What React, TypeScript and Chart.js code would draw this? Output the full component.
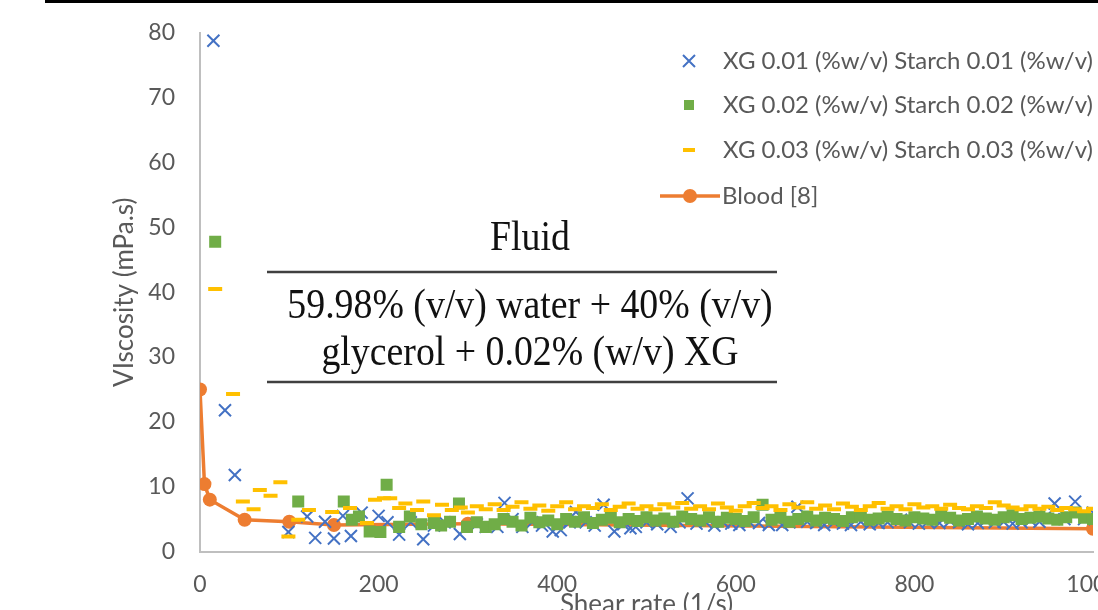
import React, { useEffect, useRef } from "react";
import { Chart, registerables } from "chart.js";

Chart.register(...registerables);

// ---------- data (shear rate [1/s], viscosity [mPa.s]) ----------
const SERIES_LABELS = [
  "XG 0.01 (%w/v) Starch 0.01 (%w/v)",
  "XG 0.02 (%w/v) Starch 0.02 (%w/v)",
  "XG 0.03 (%w/v) Starch 0.03 (%w/v)",
  "Blood [8]",
];

const XG1_POINTS: [number, number][] = [
  [15, 78.8], [28, 21.8], [39, 11.8], [99, 3.0], [120, 5.4], [129, 2.1], [140, 4.6], [150, 2.0],
  [160, 5.5], [169, 2.4], [181, 6.0], [200, 5.5], [210, 4.5], [223, 2.6], [236, 4.5], [250, 1.9],
  [262, 4.0], [274, 4.5], [291, 2.7], [310, 4.2], [320, 3.8], [333, 3.8], [341, 7.5], [350, 5.0],
  [361, 3.8], [372, 4.5], [383, 4.0], [395, 3.1], [404, 3.3], [414, 4.5], [421, 6.1], [432, 4.5],
  [442, 4.0], [452, 7.2], [464, 3.1], [474, 4.2], [482, 3.6], [488, 3.8], [500, 4.5], [512, 4.2],
  [527, 3.8], [537, 4.5], [546, 8.2], [556, 4.3], [566, 4.6], [576, 4.0], [586, 4.5], [595, 4.3],
  [604, 4.1], [615, 4.6], [626, 4.4], [637, 4.1], [652, 4.1], [660, 4.5], [669, 6.9], [680, 4.6],
  [690, 4.4], [699, 4.1], [710, 4.5], [720, 4.3], [729, 4.1], [740, 4.6], [750, 4.2], [760, 4.4],
  [770, 4.5], [785, 4.9], [795, 4.5], [805, 4.3], [815, 4.6], [828, 4.4], [840, 4.7], [850, 4.5],
  [860, 4.2], [871, 4.4], [880, 4.8], [890, 4.5], [900, 4.6], [910, 4.3], [920, 4.5], [930, 4.8],
  [940, 4.6], [948, 5.5], [957, 7.4], [968, 5.0], [980, 7.7], [990, 5.0], [1000, 6.0],
];

const XG2_POINTS: [number, number][] = [
  [17, 47.8], [110, 7.7], [161, 7.7], [170, 4.9], [178, 5.4], [190, 3.1], [202, 3.0], [209, 10.3],
  [223, 3.8], [235, 5.4], [248, 4.2], [262, 4.4], [270, 4.0], [280, 4.6], [290, 7.4], [299, 3.8],
  [310, 4.5], [320, 3.8], [330, 4.2], [340, 5.0], [350, 4.6], [360, 4.0], [370, 5.2], [380, 4.5],
  [390, 4.8], [400, 4.2], [410, 5.0], [420, 4.6], [430, 5.3], [440, 4.4], [450, 4.9], [460, 5.2],
  [470, 4.5], [480, 5.0], [490, 4.7], [500, 5.3], [510, 4.8], [520, 5.1], [530, 4.6], [540, 5.4],
  [550, 5.0], [560, 4.8], [570, 5.3], [580, 4.6], [590, 5.2], [600, 5.0], [610, 4.7], [620, 5.3],
  [630, 7.2], [640, 4.9], [650, 5.2], [660, 4.6], [670, 5.0], [680, 5.4], [690, 4.8], [700, 5.2],
  [710, 5.0], [720, 4.7], [730, 5.3], [740, 5.5], [750, 4.9], [760, 5.1], [770, 5.4], [780, 5.0],
  [790, 4.8], [800, 5.3], [810, 5.1], [820, 4.9], [830, 5.5], [840, 5.2], [850, 4.8], [860, 5.0],
  [870, 5.4], [880, 5.1], [890, 4.9], [900, 5.3], [910, 5.6], [920, 5.0], [930, 5.2], [940, 5.4],
  [950, 5.1], [960, 4.9], [970, 5.3], [980, 6.0], [990, 5.2], [1000, 5.0],
];

const XG3_POINTS: [number, number][] = [
  [17, 40.5], [37, 24.3], [48, 7.7], [60, 6.5], [67, 9.5], [79, 8.6], [90, 10.7], [99, 2.3],
  [110, 4.9], [122, 6.4], [148, 6.1], [168, 6.7], [187, 4.4], [196, 8.0], [206, 8.2], [213, 8.2],
  [223, 6.7], [230, 7.4], [243, 6.4], [250, 7.7], [262, 5.6], [271, 7.2], [282, 6.4], [292, 6.8],
  [300, 6.0], [310, 7.0], [320, 6.5], [330, 7.3], [340, 6.4], [350, 6.9], [360, 7.6], [370, 6.6],
  [380, 7.1], [390, 6.3], [400, 7.0], [410, 7.6], [420, 6.5], [430, 7.0], [440, 6.7], [450, 7.3],
  [460, 6.4], [470, 6.9], [480, 7.4], [490, 6.6], [500, 7.0], [510, 6.5], [520, 7.3], [530, 6.8],
  [540, 7.5], [550, 6.6], [560, 7.0], [570, 6.5], [580, 7.4], [590, 6.8], [600, 6.3], [610, 7.0],
  [620, 7.5], [630, 6.7], [640, 7.0], [650, 6.4], [660, 7.3], [670, 6.8], [680, 7.6], [690, 6.6],
  [700, 7.1], [710, 6.5], [720, 7.4], [730, 6.9], [740, 6.4], [750, 7.0], [760, 7.5], [770, 6.6],
  [780, 7.0], [790, 6.5], [800, 7.3], [810, 6.8], [820, 7.0], [830, 6.6], [840, 7.2], [850, 6.7],
  [860, 6.5], [870, 7.0], [880, 6.7], [890, 7.6], [900, 7.1], [910, 6.8], [920, 6.5], [930, 7.0],
  [940, 6.6], [950, 6.9], [960, 6.4], [970, 6.7], [980, 6.5], [990, 6.2], [1000, 6.6],
];

const BLOOD_POINTS: [number, number][] = [
  [0, 25.0], [5, 10.4], [11, 8.0], [50, 4.9], [100, 4.6], [150, 4.1], [300, 4.3], [1000, 3.5],
];

const X_TITLE = "Shear rate (1/s)";
const Y_TITLE = "VIscosity (mPa.s)";
const OVERLAY_HEADER = "Fluid";
const OVERLAY_LINES = ["59.98% (v/v) water + 40% (v/v)", "glycerol + 0.02% (w/v) XG"];

// ---------- styles ----------
const BLUE = "#4472C4";
const GREEN = "#70AD47";
const YELLOW = "#FFC000";
const ORANGE = "#ED7D31";
const GREY_TEXT = "#595959";
const SANS = "Lato, 'Open Sans', sans-serif";
const SERIF = "'Liberation Serif', 'Times New Roman', serif";

const toXY = (pts: [number, number][]) => pts.map(([x, y]) => ({ x, y }));

const overlayPlugin = {
  id: "overlay",
  afterDraw(chart: any) {
    const ctx: CanvasRenderingContext2D = chart.ctx;
    ctx.save();
    // black strip at the top edge
    ctx.fillStyle = "#000";
    ctx.fillRect(45, 0, chart.width - 45, 3);

    // legend
    const rows = [61, 105, 150, 196];
    const mx = 689;
    ctx.font = `24px ${SANS}`;
    ctx.fillStyle = GREY_TEXT;
    ctx.textBaseline = "middle";
    ctx.textAlign = "left";
    rows.forEach((ry, i) => {
      ctx.save();
      if (i === 0) {
        ctx.strokeStyle = BLUE;
        ctx.lineWidth = 2;
        ctx.beginPath();
        ctx.moveTo(mx - 6, ry - 6);
        ctx.lineTo(mx + 6, ry + 6);
        ctx.moveTo(mx - 6, ry + 6);
        ctx.lineTo(mx + 6, ry - 6);
        ctx.stroke();
      } else if (i === 1) {
        ctx.fillStyle = GREEN;
        ctx.fillRect(mx - 5, ry - 5, 10, 10);
      } else if (i === 2) {
        ctx.fillStyle = YELLOW;
        ctx.fillRect(mx - 6, ry - 2, 12, 4);
      } else {
        ctx.strokeStyle = ORANGE;
        ctx.lineWidth = 3.5;
        ctx.beginPath();
        ctx.moveTo(660, ry);
        ctx.lineTo(720, ry);
        ctx.stroke();
        ctx.fillStyle = ORANGE;
        ctx.beginPath();
        ctx.arc(690, ry, 7, 0, Math.PI * 2);
        ctx.fill();
      }
      ctx.restore();
      ctx.fillText(SERIES_LABELS[i], i === 3 ? 722 : 723, ry);
    });

    // inset "Fluid" table
    const cx = 530;
    const sx = 0.9;
    const drawScaled = (t: string, y: number) => {
      ctx.save();
      ctx.translate(cx, y);
      ctx.scale(sx, 1);
      ctx.fillText(t, 0, 0);
      ctx.restore();
    };
    ctx.fillStyle = "#111";
    ctx.font = `42px ${SERIF}`;
    ctx.textAlign = "center";
    ctx.textBaseline = "alphabetic";
    drawScaled(OVERLAY_HEADER, 250);
    drawScaled(OVERLAY_LINES[0], 318);
    drawScaled(OVERLAY_LINES[1], 365);
    ctx.strokeStyle = "#404040";
    ctx.lineWidth = 2.5;
    ctx.beginPath();
    ctx.moveTo(267, 272);
    ctx.lineTo(777, 272);
    ctx.moveTo(267, 382);
    ctx.lineTo(777, 382);
    ctx.stroke();
    ctx.restore();
  },
};

export default function App() {
  const ref = useRef<HTMLCanvasElement | null>(null);

  useEffect(() => {
    if (!ref.current) return;
    const chart = new Chart(ref.current, {
      type: "scatter",
      data: {
        datasets: [
          {
            label: SERIES_LABELS[2],
            data: toXY(XG3_POINTS),
            pointStyle: "line",
            pointRadius: 7,
            pointBorderWidth: 4,
            borderColor: YELLOW,
            backgroundColor: YELLOW,
            showLine: false,
            order: 1,
          },
          {
            label: SERIES_LABELS[1],
            data: toXY(XG2_POINTS),
            pointStyle: "rect",
            pointRadius: 8.5,
            pointBorderWidth: 0,
            borderColor: GREEN,
            backgroundColor: GREEN,
            showLine: false,
            order: 2,
          },
          {
            label: SERIES_LABELS[0],
            data: toXY(XG1_POINTS),
            pointStyle: "crossRot",
            pointRadius: 8.5,
            pointBorderWidth: 2,
            borderColor: BLUE,
            backgroundColor: BLUE,
            showLine: false,
            order: 3,
          },
          {
            label: SERIES_LABELS[3],
            data: toXY(BLOOD_POINTS),
            showLine: true,
            borderColor: ORANGE,
            backgroundColor: ORANGE,
            borderWidth: 3.5,
            pointStyle: "circle",
            pointRadius: 7,
            pointBorderWidth: 0,
            pointBackgroundColor: ORANGE,
            order: 4,
          },
        ],
      },
      options: {
        animation: false,
        responsive: false,
        devicePixelRatio: 1,
        events: [],
        layout: { padding: { top: 33, right: 30, left: 0, bottom: 0 } },
        plugins: { legend: { display: false }, tooltip: { enabled: false } },
        scales: {
          x: {
            type: "linear",
            min: 0,
            max: 1000,
            ticks: {
              stepSize: 200,
              padding: 19,
              color: GREY_TEXT,
              font: { family: SANS, size: 23 },
              callback: (v: any) => String(v),
            },
            grid: { display: false, drawTicks: false },
            border: { display: true, color: "#BFBFBF", width: 2 },
            title: {
              display: true,
              text: X_TITLE,
              color: GREY_TEXT,
              font: { family: SANS, size: 26 },
              padding: { top: 0, bottom: 0 },
            },
            afterFit: (axis: any) => {
              axis.height = 68.5;
              axis.paddingLeft = 0;
              axis.paddingRight = 0;
            },
          },
          y: {
            type: "linear",
            min: 0,
            max: 80,
            ticks: {
              stepSize: 10,
              padding: 25,
              color: GREY_TEXT,
              font: { family: SANS, size: 23 },
              callback: (v: any) => String(v),
            },
            grid: { display: false, drawTicks: false },
            border: { display: true, color: "#BFBFBF", width: 2 },
            title: {
              display: true,
              text: Y_TITLE,
              color: GREY_TEXT,
              font: { family: SANS, size: 26 },
              padding: { top: 109, bottom: 0 },
            },
            afterFit: (axis: any) => {
              axis.width = 200;
              axis.paddingTop = 0;
              axis.paddingBottom = 0;
            },
          },
        },
      },
      plugins: [overlayPlugin],
    } as any);
    return () => chart.destroy();
  }, []);

  return (
    <div
      style={{
        position: "absolute",
        left: 0,
        top: 0,
        width: 1098,
        height: 610,
        overflow: "hidden",
        background: "#fff",
      }}
    >
      <canvas ref={ref} width={1123} height={620} style={{ display: "block", width: 1123, height: 620 }} />
    </div>
  );
}
